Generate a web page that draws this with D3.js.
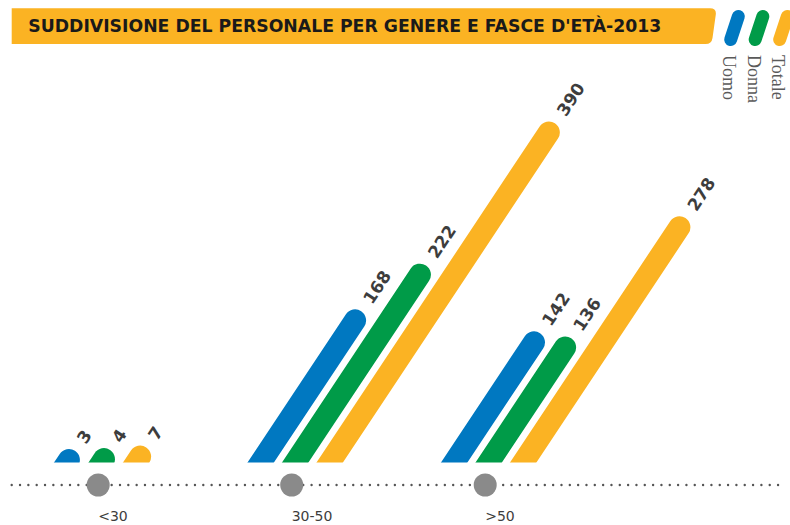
<!DOCTYPE html>
<html lang="it">
<head>
<meta charset="UTF-8">
<title>Suddivisione del personale per genere e fasce d'età 2013</title>
<style>
    body { margin: 0; background: #fff; }
    svg { display: block; }
    .value { font-family: "DejaVu Sans", sans-serif; font-weight: bold; font-size: 17px; fill: #3d3d3d; }
    .tick { font-family: "DejaVu Sans", sans-serif; font-size: 14px; fill: #3d3d3d; }
    .legend-label { font-family: "Liberation Serif", serif; font-size: 18px; fill: #5a5a5a; }
</style>
</head>
<body>
<svg id="chart" width="790" height="525"></svg>
<script src="https://cdnjs.cloudflare.com/ajax/libs/d3/7.8.5/d3.min.js"></script>
<script>
// dati
const title = "SUDDIVISIONE DEL PERSONALE PER GENERE E FASCE D'ETÀ-2013";
const ageGroups = ['<30', '30-50', '>50'];
const series = ['Uomo', 'Donna', 'Totale'];
const uomo = [3, 168, 142];
const donna = [4, 222, 136];
const totale = [7, 390, 278];
const colors = ['#0078c1', '#009b48', '#fbb323'];

const svg = d3.select('#chart');
const baseY = 462.5;
const slant = 0.664;          // dx per pixel of height
const barWidth = 22;

const x = d3.scalePoint().domain(ageGroups).range([101.7, 488.7]);
const xInner = d3.scalePoint().domain(series).range([-34.5, 34.5]);
const h = d3.scaleLinear().domain([0, 390]).range([0, 330]);
const color = d3.scaleOrdinal().domain(series).range(colors);

// banner titolo
svg.append('path')
    .attr('d', 'M11.7,8.3 L710,8.3 Q716.5,8.3 715.8,14.5 L712.5,38 Q711.7,44 705.5,44 L11.7,44 Z')
    .attr('fill', '#fbb323');
svg.append('text')
    .attr('x', 28.3).attr('y', 31.7)
    .attr('textLength', 633).attr('lengthAdjust', 'spacingAndGlyphs')
    .style('font-family', '"DejaVu Sans", sans-serif')
    .style('font-weight', 'bold').style('font-size', '17px')
    .attr('fill', '#1a1a1a')
    .text(title);

// legenda
const legend = svg.append('g');
series.forEach((s, i) => {
    const dx = i * 24.5;
    legend.append('line')
        .attr('x1', 730.7 + dx).attr('y1', 39.5)
        .attr('x2', 738.3 + dx).attr('y2', 16.5)
        .attr('stroke', color(s)).attr('stroke-width', 13)
        .attr('stroke-linecap', 'round');
    legend.append('text')
        .attr('class', 'legend-label')
        .attr('transform', `translate(${723 + dx},55) rotate(90)`)
        .text(s);
});

// asse punteggiato
svg.append('line')
    .attr('x1', 11.7).attr('x2', 782).attr('y1', 485).attr('y2', 485)
    .attr('stroke', '#555').attr('stroke-width', 2.4)
    .attr('stroke-linecap', 'round').attr('stroke-dasharray', '0 8.33');

const axis = svg.append('g');
axis.selectAll('circle')
    .data(ageGroups)
    .enter().append('circle')
    .attr('cx', d => x(d) - 3.5).attr('cy', 485).attr('r', 11.5)
    .attr('fill', '#8a8a8a');
axis.selectAll('text')
    .data(ageGroups)
    .enter().append('text')
    .attr('class', 'tick')
    .attr('x', d => x(d) - 3.5).attr('y', 521)
    .text(d => d);

// barre inclinate
svg.append('clipPath').attr('id', 'above-base')
    .append('rect').attr('x', 0).attr('y', 0).attr('width', 790).attr('height', baseY);

const bars = [];
ageGroups.forEach((g, i) => {
    [uomo, donna, totale].forEach((vals, j) => {
        bars.push({group: g, serie: series[j], value: vals[i]});
    });
});

const len = Math.sqrt(1 + slant * slant);
const dir = [slant / len, -1 / len];
const angle = Math.atan2(dir[1], dir[0]) * 180 / Math.PI;

bars.forEach(d => {
    const x0 = x(d.group) + xInner(d.serie);
    d.bx = x0 - 20 * slant;
    d.by = baseY + 20;
    d.tx = x0 + h(d.value) * slant;
    d.ty = baseY - h(d.value);
});

svg.append('g')
    .attr('clip-path', 'url(#above-base)')
    .selectAll('line')
    .data(bars)
    .enter().append('line')
    .attr('x1', d => d.bx).attr('y1', d => d.by)
    .attr('x2', d => d.tx).attr('y2', d => d.ty)
    .attr('stroke', d => color(d.serie))
    .attr('stroke-width', barWidth)
    .attr('stroke-linecap', 'round');

svg.append('g')
    .selectAll('text')
    .data(bars)
    .enter().append('text')
    .attr('class', 'value')
    .attr('transform', d => `translate(${d.tx + 22 * dir[0]},${d.ty + 22 * dir[1]}) rotate(${angle})`)
    .attr('dy', '0.35em')
    .text(d => d.value);
</script>
</body>
</html>
